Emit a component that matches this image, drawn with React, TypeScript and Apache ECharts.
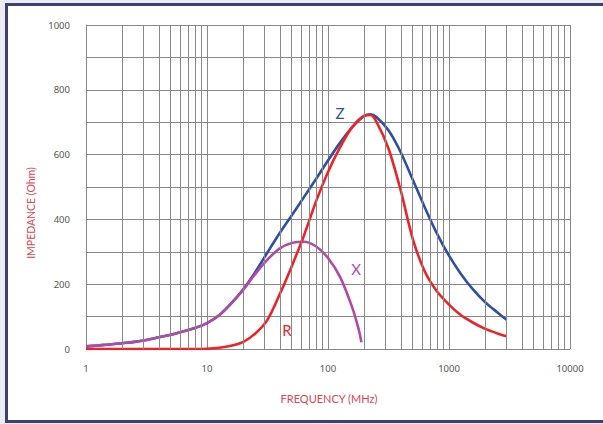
import React, { useEffect, useRef } from "react";
import * as echarts from "echarts";

const zFreq = [1, 1.26, 1.58, 2, 2.51, 3.16, 3.98, 5.01, 6.31, 7.94, 10, 12.6, 15.8, 20, 25.1, 31.6, 39.8, 50.1, 63.1, 79.4, 100, 126, 158, 200, 224, 251, 316, 398, 501, 631, 794, 1000, 1259, 1585, 1995, 2512, 3000];
const zVals = [8, 11, 14, 18, 22, 28, 36, 44, 54, 65, 80, 104, 140, 185, 238, 298, 357, 412, 468, 524, 582, 637, 684, 720, 724, 716, 675, 608, 523, 437, 357, 288, 231, 183, 144, 113, 90];

const xFreq = [1, 1.26, 1.58, 2, 2.51, 3.16, 3.98, 5.01, 6.31, 7.94, 10, 12.6, 15.8, 20, 25.1, 31.6, 39.8, 50.1, 63.1, 79.4, 100, 126, 158, 178, 189];
const xVals = [8, 11, 14, 18, 22, 28, 36, 44, 54, 65, 80, 104, 140, 183, 232, 276, 310, 327, 331, 317, 281, 222, 130, 65, 21];

const rFreq = [1, 1.26, 1.58, 2, 2.51, 3.16, 3.98, 5.01, 6.31, 7.94, 10, 12.6, 15.8, 20, 25.1, 31.6, 39.8, 50.1, 63.1, 79.4, 100, 126, 158, 200, 224, 251, 316, 398, 501, 631, 794, 1000, 1259, 1585, 1995, 2512, 3000];
const rVals = [0, 0, 0, 0, 0, 0, 0, 0, 0, 0, 1, 4, 10, 22, 48, 90, 168, 255, 349, 454, 546, 623, 684, 720, 722, 702, 619, 491, 341, 239, 178, 137, 104, 81, 62, 48, 39];

const decades = [1, 10, 100, 1000];
const minorSteps = [2, 3, 4, 5, 6, 7, 8, 9];

const BLUE = "#2f4fa3";
const RED = "#ee2326";
const PURPLE = "#b04aa8";

export default function App() {
  const ref = useRef<HTMLDivElement>(null);
  useEffect(() => {
    if (!ref.current) return;
    const chart = echarts.init(ref.current, undefined, { renderer: "svg" });
    const minorLines: any[] = [];
    decades.forEach((d) => minorSteps.forEach((m) => minorLines.push({ xAxis: d * m })));
    const pair = (f: number[], v: number[]) => f.map((x, i) => [x, v[i]]);
    chart.setOption({
      animation: false,
      backgroundColor: "transparent",
      grid: { left: 86, right: 33, top: 25, bottom: 75 },
      xAxis: {
        type: "log",
        logBase: 10,
        min: 1,
        max: 10000,
        axisLine: { show: false },
        axisTick: { show: false },
        axisLabel: {
          margin: 14,
          color: "#555",
          fontFamily: "Noto Sans",
          fontSize: 9.5,
          formatter: (v: number) => String(Math.round(v)),
        },
        splitLine: { show: true, lineStyle: { color: "#888", width: 1 } },
      },
      yAxis: {
        type: "value",
        min: 0,
        max: 1000,
        interval: 100,
        axisLine: { show: true, lineStyle: { color: "#888", width: 1 } },
        axisTick: { show: false },
        axisLabel: {
          margin: 16,
          color: "#555",
          fontFamily: "Noto Sans",
          fontSize: 9.5,
          formatter: (v: number) => (v % 200 === 0 ? String(v) : ""),
        },
        splitLine: { show: true, lineStyle: { color: "#888", width: 1 } },
      },
      graphic: [
        {
          type: "text",
          x: 31,
          y: 213,
          rotation: Math.PI / 2,
          style: {
            text: "IMPEDANCE (Ohm)",
            fill: "#dc4550",
            font: "10.5px Lato",
            align: "center",
            verticalAlign: "middle",
          },
        },
        {
          type: "text",
          x: 329,
          y: 398,
          style: {
            text: "FREQUENCY (MHz)",
            fill: "#dc4550",
            font: "11px Lato",
            align: "center",
            verticalAlign: "middle",
          },
        },
        {
          type: "text",
          x: 340,
          y: 113,
          style: { text: "Z", fill: BLUE, font: "15px Lato", align: "center", verticalAlign: "middle" },
        },
        {
          type: "text",
          x: 356,
          y: 269,
          style: { text: "X", fill: PURPLE, font: "15px Lato", align: "center", verticalAlign: "middle" },
        },
        {
          type: "text",
          x: 287,
          y: 330,
          style: { text: "R", fill: RED, font: "15px Lato", align: "center", verticalAlign: "middle" },
        },
      ],
      series: [
        {
          type: "line",
          data: [],
          silent: true,
          markLine: {
            silent: true,
            symbol: "none",
            label: { show: false },
            lineStyle: { color: "#888", width: 1, type: "solid" },
            data: minorLines,
          },
        },
        {
          name: "Z",
          type: "line",
          data: pair(zFreq, zVals),
          smooth: 0.3,
          showSymbol: false,
          lineStyle: { color: BLUE, width: 2.6 },
          itemStyle: { color: BLUE },
        },
        {
          name: "X",
          type: "line",
          data: pair(xFreq, xVals),
          smooth: 0.3,
          showSymbol: false,
          lineStyle: { color: PURPLE, width: 2.6 },
          itemStyle: { color: PURPLE },
        },
        {
          name: "R",
          type: "line",
          data: pair(rFreq, rVals),
          smooth: 0.3,
          showSymbol: false,
          lineStyle: { color: RED, width: 2.6 },
          itemStyle: { color: RED },
        },
      ],
    });
    return () => chart.dispose();
  }, []);
  return (
    <div style={{ position: "fixed", left: 0, top: 0, width: 603, height: 424, background: "#eaecf1", overflow: "hidden" }}>
      <div
        style={{
          position: "absolute",
          left: 5,
          top: 3,
          width: 660,
          height: 420,
          boxSizing: "border-box",
          border: "3px solid #3d4070",
          background: "#fff",
        }}
      />
      <div ref={ref} style={{ position: "absolute", left: 0, top: 0, width: 603, height: 424 }} />
    </div>
  );
}
